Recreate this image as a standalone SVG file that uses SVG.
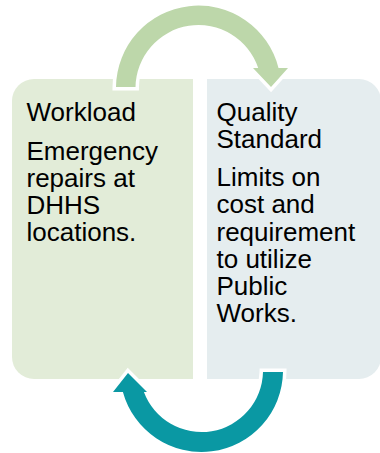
<svg xmlns="http://www.w3.org/2000/svg" width="380" height="453" viewBox="0 0 380 453">
<style>
.t{font-family:"Liberation Sans",Arial,sans-serif;font-size:26px;fill:#000}
.arr{stroke:#fff;stroke-width:7;stroke-linejoin:miter;paint-order:stroke}
</style>
<rect width="380" height="453" fill="#fff"/>
<g id="workload">
<path d="M34,79 H193 V379 H34 A22,22 0 0 1 12,357 V101 A22,22 0 0 1 34,79 Z" fill="#E2ECD8"/>
<text class="t" x="26.5" y="121">Workload</text>
<text class="t" x="26.5" y="159.5">Emergency</text>
<text class="t" x="26.5" y="186.5">repairs at</text>
<text class="t" x="26.5" y="213.5">DHHS</text>
<text class="t" x="26.5" y="240.5">locations.</text>
</g>
<g id="quality">
<path d="M207,79 H359 A22,22 0 0 1 381,101 V357 A22,22 0 0 1 359,379 H207 Z" fill="#E5EDEF"/>
<text class="t" x="216.5" y="121">Quality</text>
<text class="t" x="216.5" y="148">Standard</text>
<text class="t" x="216.5" y="186">Limits on</text>
<text class="t" x="216.5" y="213">cost and</text>
<text class="t" x="216.5" y="240.5">requirement</text>
<text class="t" x="216.5" y="267.5">to utilize</text>
<text class="t" x="216.5" y="294.5">Public</text>
<text class="t" x="216.5" y="321.5">Works.</text>
</g>
<g id="connectors">
<path class="arr" fill="#BDD7AA" d="M116,87 A82.5,82.5 0 0 1 278.5,68 L288,68 L271,87 L253,68 L258.2,68 A63,63 0 0 0 135.5,87 Z"/>
<path class="arr" fill="#0A98A3" d="M283,372 A81.5,81.5 0 0 1 122.9,392 L113,392 L128,373 L147,392 L143.9,392 A61.5,61.5 0 0 0 263,372 Z"/>
</g>
</svg>
